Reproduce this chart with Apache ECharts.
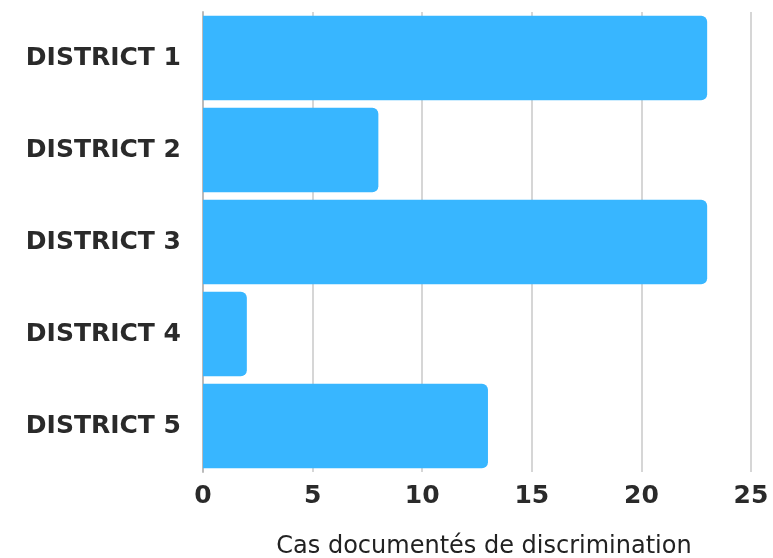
<!DOCTYPE html>
<html>
<head>
<meta charset="utf-8">
<script src="https://cdn.jsdelivr.net/npm/echarts@6/dist/echarts.min.js"></script>
<style>
  html, body { margin: 0; padding: 0; background: #fff; }
  #bar-chart { width: 773px; height: 558px; }
</style>
</head>
<body>
<div id="bar-chart"></div>
<script>
const districts = ['DISTRICT 1', 'DISTRICT 2', 'DISTRICT 3', 'DISTRICT 4', 'DISTRICT 5']
const cases = [23, 8, 23, 2, 13]
const xTicks = [0, 5, 10, 15, 20, 25]

const chart = echarts.init(document.getElementById('bar-chart'))
const option = {
  animation: false,
  grid: {
    left: 203,
    right: 22,
    top: 12,
    bottom: 86,
    outerBoundsMode: 'none',
    containLabel: false
  },
  xAxis: {
    type: 'value',
    min: xTicks[0],
    max: xTicks[xTicks.length - 1],
    interval: 5,
    name: 'Cas documentés de discrimination',
    nameLocation: 'middle',
    nameGap: 63,
    nameTextStyle: {
      color: '#222',
      fontFamily: 'DejaVu Sans',
      fontSize: 24,
      padding: [0, 0, 0, 14]
    },
    axisLine: { show: false },
    axisTick: { show: false },
    axisLabel: {
      color: '#2a2a2a',
      fontFamily: 'DejaVu Sans',
      fontWeight: 'bold',
      fontSize: 25,
      margin: 12
    },
    splitLine: {
      show: true,
      lineStyle: { color: '#d6d6d6', width: 2 }
    }
  },
  yAxis: {
    type: 'category',
    inverse: true,
    data: districts,
    axisLine: {
      show: true,
      lineStyle: { color: '#bbbbbb', width: 2 }
    },
    axisTick: { show: false },
    axisLabel: {
      color: '#2a2a2a',
      fontFamily: 'DejaVu Sans',
      fontWeight: 'bold',
      fontSize: 25,
      margin: 22
    }
  },
  series: [
    {
      type: 'bar',
      data: cases,
      barCategoryGap: '8%',
      itemStyle: {
        color: '#38B6FF',
        borderRadius: [0, 6, 6, 0]
      }
    }
  ]
}
chart.setOption(option)
</script>
</body>
</html>
